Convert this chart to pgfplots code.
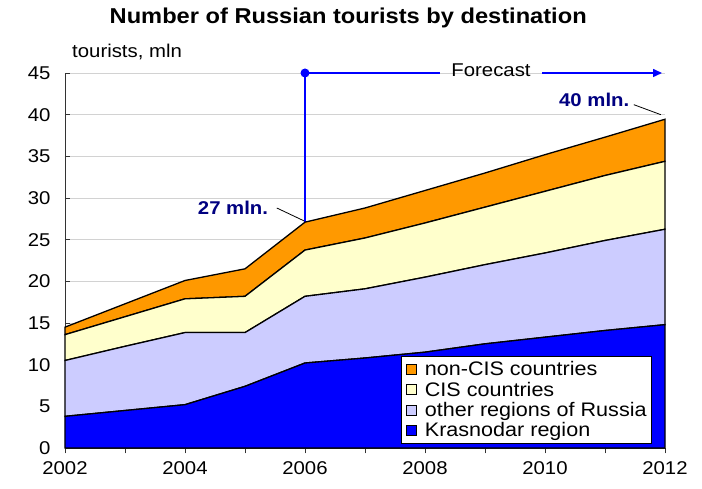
\documentclass[border=0pt]{standalone}
\usepackage{fontspec}
\setmainfont{Liberation Sans}[FakeStretch=1.1]
\usepackage{pgfplots}
\pgfplotsset{compat=1.18}
\usetikzlibrary{arrows.meta}

\definecolor{krasn}{RGB}{0,0,255}
\definecolor{otherreg}{RGB}{204,204,255}
\definecolor{cis}{RGB}{255,255,204}
\definecolor{noncis}{RGB}{255,153,0}
\definecolor{navy}{RGB}{0,0,128}

\newcommand{\lbl}{\fontsize{18.5}{20}\selectfont}

\begin{document}
\begin{tikzpicture}
\useasboundingbox (0,0) rectangle (702pt,489pt);
\begin{axis}[
    at={(65pt,41pt)}, anchor=south west,
    width=600pt, height=375pt, scale only axis,
    xmin=2002, xmax=2012, ymin=0, ymax=45,
    stack plots=y,
    clip=false,
    axis x line*=bottom, axis y line*=left,
    axis line style={-, black!80, line width=0.8pt},
    xtick={2002,2004,...,2012},
    minor xtick={2003,2005,...,2011},
    ytick={0,5,...,45},
    xtick align=outside, ytick align=inside,
    major tick length=5.5pt, minor tick length=5.5pt,
    tick style={black!80, line width=0.8pt},
    ymajorgrids,
    major grid style={gray!35, line width=0.8pt},
    tick label style={font=\lbl, /pgf/number format/assume math mode=true},
    x tick label style={/pgf/number format/1000 sep={}, yshift=-5pt},
    yticklabel style={xshift=-11pt},
    reverse legend,
    legend style={at={(0.978,0.013)}, anchor=south east, draw=black,
        font=\fontsize{19.6}{20}\selectfont, row sep=0.5pt,
        inner xsep=3pt, inner ysep=3pt, cells={anchor=west}},
    legend image code/.code={%
        \draw[#1,draw=black,line width=0.6pt] (0pt,-5pt) rectangle (10pt,5pt);
        \path[draw=none,fill=none] (-2pt,0pt) -- (17pt,0pt);},
]
% Krasnodar region
\addplot[fill=krasn, draw=black, line width=1.3pt] coordinates {
    (2002,3.8) (2003,4.5) (2004,5.2) (2005,7.4) (2006,10.2) (2007,10.8)
    (2008,11.5) (2009,12.5) (2010,13.3) (2011,14.1) (2012,14.8)
} \closedcycle;
% other regions of Russia
\addplot[fill=otherreg, draw=black, line width=1.3pt] coordinates {
    (2002,6.7) (2003,7.7) (2004,8.65) (2005,6.45) (2006,8.0) (2007,8.3)
    (2008,9.0) (2009,9.5) (2010,10.1) (2011,10.8) (2012,11.45)
} \closedcycle;
% CIS countries
\addplot[fill=cis, draw=black, line width=1.3pt] coordinates {
    (2002,3.1) (2003,3.55) (2004,4.05) (2005,4.35) (2006,5.55) (2007,6.1)
    (2008,6.5) (2009,6.9) (2010,7.4) (2011,7.8) (2012,8.15)
} \closedcycle;
% non-CIS countries
\addplot[fill=noncis, draw=black, line width=1.3pt] coordinates {
    (2002,0.9) (2003,1.55) (2004,2.2) (2005,3.3) (2006,3.35) (2007,3.6)
    (2008,3.9) (2009,4.1) (2010,4.4) (2011,4.6) (2012,5.05)
} \closedcycle;
\legend{Krasnodar region, other regions of Russia, CIS countries, non-CIS countries}

% forecast marker
\draw[krasn, line width=1.5pt] (axis cs:2006,0) -- (axis cs:2006,45);
\draw[krasn, line width=1.5pt] (axis cs:2006,45) -- (axis cs:2008.25,45);
\draw[krasn, line width=1.5pt, -{Triangle[length=9pt,width=8pt]}]
    (axis cs:2009.95,45) -- (axis cs:2011.95,45);
\fill[krasn] (axis cs:2006,45) circle (4.5pt);
\node[font=\lbl] at (axis cs:2009.1,45.3) {Forecast};

% callouts
\node[font=\lbl\bfseries, text=navy] at (axis cs:2004.8,28.85) {27 mln.};
\draw[black, line width=0.8pt] (axis cs:2005.53,28.8) -- (axis cs:2006,27.2);
\node[font=\lbl\bfseries, text=navy] at (axis cs:2010.82,41.8) {40 mln.};
\draw[black, line width=0.8pt] (axis cs:2011.48,41.2) -- (axis cs:2011.93,40.0);

% titles
\node[font=\fontsize{21.5}{23}\selectfont\bfseries] at (rel axis cs:0.472,1.147)
    {Number of Russian tourists by destination};
\node[font=\lbl, anchor=west, inner sep=0pt] at (rel axis cs:0.0117,1.056) {tourists, mln};
\end{axis}
\end{tikzpicture}
\end{document}
